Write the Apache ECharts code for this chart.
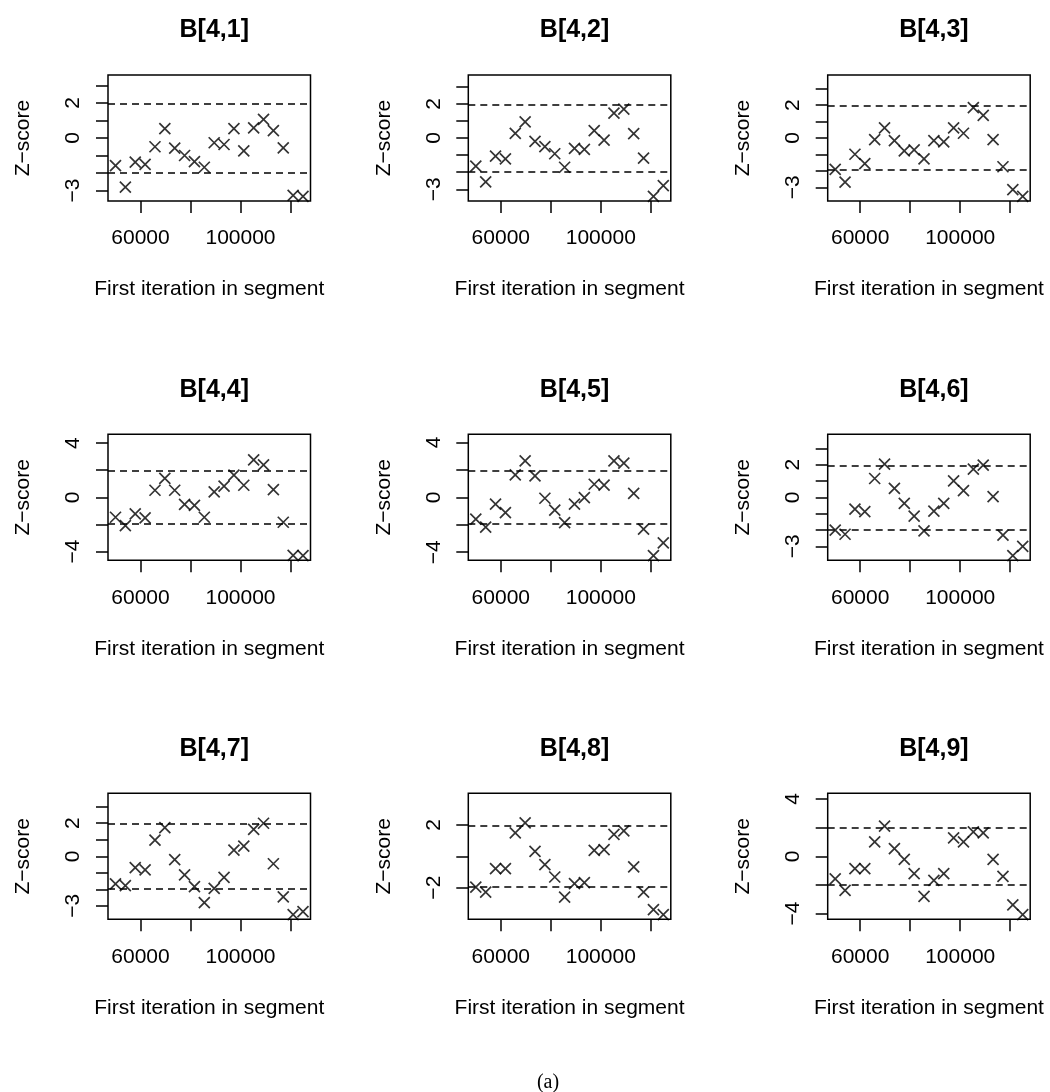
<!DOCTYPE html>
<html>
<head>
<meta charset="utf-8">
<title>Geweke plots B[4,1..9]</title>
<script src="https://cdn.jsdelivr.net/npm/echarts@6/dist/echarts.min.js"></script>
<style>
  html, body { margin: 0; padding: 0; background: #fff; }
  #chart { width: 1050px; height: 1092px; }
</style>
</head>
<body>
<div id="chart"></div>
<script>
// first iteration of each of the 20 segments
const segStart = [50000, 53947, 57895, 61842, 65789, 69737, 73684, 77632, 81579, 85526,
                  89474, 93421, 97368, 101316, 105263, 109211, 113158, 117105, 121053, 125000]

const titles = ['B[4,1]', 'B[4,2]', 'B[4,3]', 'B[4,4]', 'B[4,5]', 'B[4,6]', 'B[4,7]', 'B[4,8]', 'B[4,9]']

// Z-scores
const z41 = [-1.58, -2.81, -1.38, -1.50, -0.50, 0.54, -0.58, -1.00, -1.35, -1.67,
             -0.27, -0.37, 0.54, -0.73, 0.58, 1.06, 0.42, -0.56, -3.27, -3.33]
const z42 = [-1.65, -2.57, -1.06, -1.22, 0.27, 0.94, -0.20, -0.51, -0.92, -1.71,
             -0.61, -0.67, 0.43, -0.12, 1.45, 1.69, 0.25, -1.18, -3.41, -2.78]
const z43 = [-1.91, -2.69, -0.99, -1.56, -0.10, 0.62, -0.16, -0.78, -0.72, -1.27,
             -0.16, -0.23, 0.62, 0.29, 1.85, 1.38, -0.10, -1.75, -3.14, -3.55]
const z44 = [-1.47, -2.09, -1.22, -1.52, 0.52, 1.39, 0.52, -0.52, -0.60, -1.47,
             0.40, 0.82, 1.64, 0.89, 2.76, 2.39, 0.57, -1.84, -4.28, -4.30]
const z45 = [-1.59, -2.17, -0.49, -1.12, 1.63, 2.66, 1.56, -0.07, -0.93, -1.85,
             -0.49, -0.02, 0.95, 0.88, 2.66, 2.49, 0.29, -2.32, -4.25, -3.32]
const z46 = [-2.01, -2.26, -0.72, -0.88, 1.15, 2.03, 0.55, -0.37, -1.15, -2.05,
             -0.84, -0.37, 1.01, 0.41, 1.72, 1.97, 0.04, -2.32, -3.57, -3.00]
const z47 = [-1.67, -1.78, -0.69, -0.82, 0.98, 1.73, -0.20, -1.12, -1.84, -2.80,
             -1.94, -1.27, 0.37, 0.61, 1.63, 2.00, -0.45, -2.45, -3.53, -3.35]
const z48 = [-1.96, -2.28, -0.79, -0.79, 1.49, 2.13, 0.32, -0.53, -1.32, -2.60,
             -1.74, -1.68, 0.38, 0.43, 1.40, 1.62, -0.68, -2.28, -3.40, -3.72]
const z49 = [-1.57, -2.38, -0.86, -0.86, 1.00, 2.10, 0.54, -0.21, -1.21, -2.80,
             -1.68, -1.21, 1.29, 1.00, 1.71, 1.64, -0.21, -1.40, -3.39, -4.07]
const zSeries = [z41, z42, z43, z44, z45, z46, z47, z48, z49]

// reference bounds (dashed lines)
const zBounds = [-1.96, 1.96]

// axis ticks and the labels R kept
const xTicks = [60000, 80000, 100000, 120000]
const xLabels = [60000, 100000]
const yTicks = [
  [-3, -2, -1, 0, 1, 2, 3], [-3, -2, -1, 0, 1, 2, 3], [-3, -2, -1, 0, 1, 2, 3],
  [-4, -2, 0, 2, 4], [-4, -2, 0, 2, 4], [-3, -2, -1, 0, 1, 2, 3],
  [-3, -2, -1, 0, 1, 2, 3], [-2, 0, 2], [-4, -2, 0, 2, 4]
]
const yLabels = [
  [-3, 0, 2], [-3, 0, 2], [-3, 0, 2],
  [-4, 0, 4], [-4, 0, 4], [-3, 0, 2],
  [-3, 0, 2], [-2, 2], [-4, 0, 4]
]

const colLeft = [108, 468.3, 827.7]
const rowTop = [75, 434.3, 793.3]
const boxW = 202.5
const boxH = 126
const font = 'Liberation Sans, Arial, Helvetica, sans-serif'
const crossPath = 'path://M0,0L10,10M0,10L10,0'

const chart = echarts.init(document.getElementById('chart'))

const xLo = Math.min(...segStart)
const xHi = Math.max(...segStart)
const xPad = 0.04 * (xHi - xLo)

const grids = []
const xAxes = []
const yAxes = []
const series = []
const titleList = []

zSeries.forEach((z, i) => {
  const col = i % 3
  const row = Math.floor(i / 3)
  const ylim = Math.max(2, ...z.map(Math.abs)) * 1.08

  grids.push({
    left: colLeft[col], top: rowTop[row], width: boxW, height: boxH,
    show: true, borderColor: '#000', borderWidth: 1.5, backgroundColor: 'transparent'
  })

  xAxes.push({
    gridIndex: i,
    type: 'value',
    min: xLo - xPad,
    max: xHi + xPad,
    axisLine: { show: false, onZero: false },
    splitLine: { show: false },
    axisTick: { show: true, length: 12, customValues: xTicks, lineStyle: { color: '#000', width: 1.5 } },
    axisLabel: {
      customValues: xLabels, margin: 27, fontSize: 21, color: '#000', fontFamily: font,
      formatter: v => String(v)
    },
    name: 'First iteration in segment',
    nameLocation: 'middle',
    nameGap: 78,
    nameTextStyle: { fontSize: 21, color: '#000', fontFamily: font }
  })

  yAxes.push({
    gridIndex: i,
    type: 'value',
    min: -ylim,
    max: ylim,
    axisLine: { show: false, onZero: false },
    splitLine: { show: false },
    axisTick: { show: true, length: 12, customValues: yTicks[i], lineStyle: { color: '#000', width: 1.5 } },
    axisLabel: {
      customValues: yLabels[i], rotate: 90, margin: 24, fontSize: 21, color: '#000', fontFamily: font,
      formatter: v => String(v).replace('-', '\u2212')
    },
    name: 'Z\u2212score',
    nameLocation: 'middle',
    nameGap: 74,
    nameTextStyle: { fontSize: 21, color: '#000', fontFamily: font }
  })

  series.push({
    type: 'scatter',
    xAxisIndex: i,
    yAxisIndex: i,
    symbol: crossPath,
    symbolSize: 11,
    itemStyle: { color: 'rgba(0,0,0,0)', borderColor: '#000', borderWidth: 1.7 },
    data: z.map((v, k) => [segStart[k], v]),
    markLine: {
      silent: true,
      symbol: 'none',
      label: { show: false },
      lineStyle: { type: [7, 5], color: '#000', width: 1.5 },
      data: zBounds.map(v => ({ yAxis: v }))
    }
  })

  titleList.push({
    text: titles[i],
    left: colLeft[col] + boxW / 2,
    top: rowTop[row] - 62,
    textAlign: 'center',
    textStyle: { fontSize: 25, fontWeight: 'bold', color: '#000', fontFamily: font }
  })
})

titleList.push({
  text: '(a)',
  left: 543,
  top: 1068,
  textAlign: 'center',
  textStyle: { fontSize: 20, fontWeight: 'normal', color: '#000', fontFamily: 'Liberation Serif, DejaVu Serif, serif' }
})

chart.setOption({
  animation: false,
  backgroundColor: '#fff',
  title: titleList,
  grid: grids,
  xAxis: xAxes,
  yAxis: yAxes,
  series: series
})
</script>
</body>
</html>
